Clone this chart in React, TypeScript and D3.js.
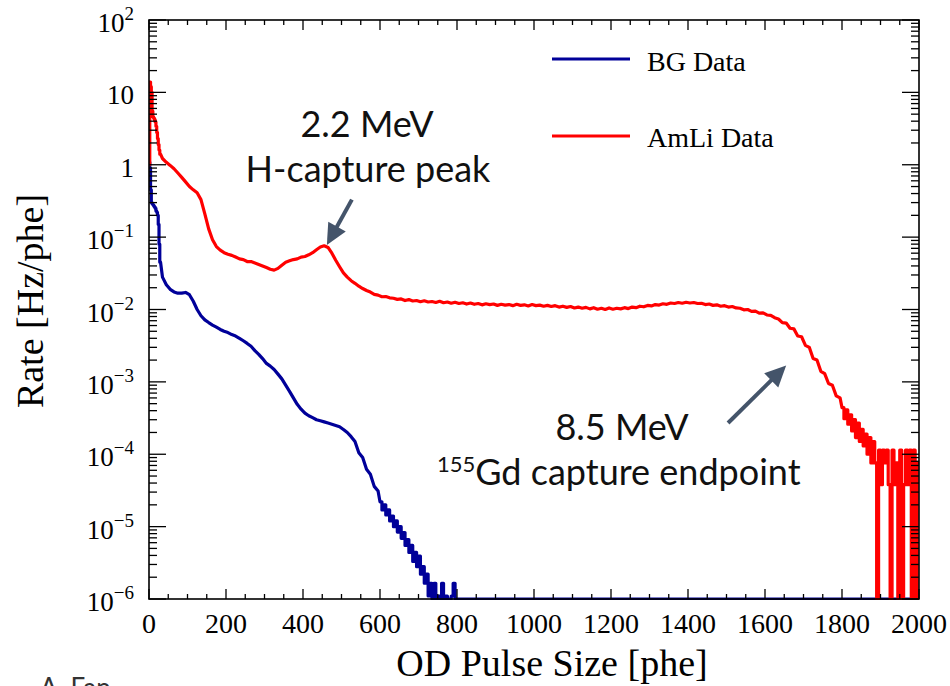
import React from 'react';
import * as d3 from 'd3';

// ---------- data ----------
const xTickValues = [0, 200, 400, 600, 800, 1000, 1200, 1400, 1600, 1800, 2000];
const yTickExponents = [-6, -5, -4, -3, -2, -1, 0, 1, 2];
const seriesNames = ['BG Data', 'AmLi Data'];

// AmLi (red) histogram
const redHeadStart = 0, redHeadWidth = 2;
const redHead = [1.0, 13.9, 12.0, 10.0, 5.5, 4.6, 4.4, 4.2, 3.9, 3.4, 2.8, 2.3, 1.9, 1.6, 1.4];
const redBodyStart = 30, redBodyWidth = 10;
const redBody = [
  1.22, 1.08, 0.98, 0.88, 0.77, 0.67, 0.58, 0.50, 0.45, 0.41,
  0.33, 0.21, 0.13, 0.092, 0.074, 0.066, 0.061, 0.058, 0.056, 0.053,
  0.050, 0.049, 0.046, 0.046, 0.044, 0.042, 0.040, 0.038, 0.036, 0.035,
  0.037, 0.041, 0.045, 0.047, 0.049, 0.050, 0.053, 0.054, 0.057, 0.061,
  0.067, 0.073, 0.076, 0.072, 0.060, 0.048, 0.039, 0.032, 0.028, 0.025,
  0.023, 0.021, 0.0195, 0.0183, 0.0174, 0.0162, 0.0158, 0.0150, 0.0151, 0.0145,
  0.0143, 0.0138, 0.0140, 0.0133, 0.0137, 0.0131, 0.0133, 0.0128, 0.0132, 0.0127,
  0.0129, 0.0125, 0.0130, 0.0124, 0.0127, 0.0122, 0.0126, 0.0121, 0.0124, 0.0119,
  0.0123, 0.0118, 0.0121, 0.0116, 0.0120, 0.0117, 0.0119, 0.0114, 0.0118, 0.0115,
  0.0117, 0.0113, 0.0118, 0.0114, 0.0116, 0.0112, 0.0117, 0.0113, 0.0115, 0.0111,
  0.0114, 0.0110, 0.0113, 0.0108, 0.0111, 0.0107, 0.0110, 0.0105, 0.0108, 0.0104,
  0.0107, 0.0102, 0.0106, 0.0101, 0.0104, 0.0100, 0.0105, 0.0101, 0.0104, 0.0102,
  0.0106, 0.0103, 0.0108, 0.0106, 0.0111, 0.0109, 0.0114, 0.0112, 0.0117, 0.0115,
  0.0120, 0.0118, 0.0123, 0.0121, 0.0125, 0.0122, 0.0126, 0.0123, 0.0125, 0.0121,
  0.0122, 0.0117, 0.0119, 0.0114, 0.0116, 0.0111, 0.0113, 0.0108, 0.0110, 0.0105,
  0.0104, 0.0099, 0.0100, 0.0094, 0.0095, 0.0089, 0.0090, 0.0084, 0.0083, 0.0077,
  0.0074, 0.0066, 0.0065, 0.0055, 0.0054, 0.0043, 0.0042, 0.0032, 0.0030, 0.0021,
  0.0020, 0.0014, 0.0013, 0.00095, 0.00090, 0.00064, 0.00060,
];
const redTailStart = 1800, redTailWidth = 5;
const redTail = [
  0.00044, 0.00031, 0.00041, 0.00026, 0.00035, 0.00021, 0.00030, 0.00017, 0.00027, 0.00015,
  0.00022, 0.00013, 0.00019, 0.00010, 0.00017, 0.000076, 0.00015, 0.000076, 0, 0.000114,
  0.000038, 0.000114, 0.000076, 0.000114, 0.000038, 0, 0.000114, 0.000038, 0.000076, 0,
  0.000114, 0, 0.000038, 0.000114, 0.000038, 0.000114, 0, 0.000114, 0, 0.000076,
];

// BG (blue) histogram
const blueHeadStart = 0, blueHeadWidth = 2;
const blueHead = [1.09, 0.9, 0.45, 0.30, 0.29, 0.28, 0.27, 0.26, 0.25, 0.23, 0.22, 0.20, 0.15, 0.08, 0.045];
const blueBodyStart = 30, blueBodyWidth = 10;
const blueBody = [
  0.028, 0.022, 0.019, 0.0175, 0.0168, 0.0168, 0.0172, 0.0160, 0.0130, 0.0100,
  0.0082, 0.0072, 0.0066, 0.0061, 0.0057, 0.0053, 0.0050, 0.0048, 0.0045, 0.0043,
  0.0040, 0.0037, 0.0034, 0.0031, 0.0027, 0.0024, 0.0021, 0.0018, 0.00165, 0.00148,
  0.00128, 0.00110, 0.00090, 0.00074, 0.00060, 0.00049, 0.00042, 0.00037, 0.00034, 0.00032,
  0.00030, 0.00029, 0.00028, 0.00027, 0.00026, 0.00025, 0.00024, 0.00022, 0.00020, 0.000175,
  0.000150, 0.000105, 0.000090, 0.000062, 0.000053, 0.000036, 0.000031,
];
const blueTailStart = 600, blueTailWidth = 5;
const blueTail = [
  2.2e-5, 1.7e-5, 2.0e-5, 1.45e-5, 1.7e-5, 1.2e-5, 1.4e-5, 1.0e-5, 1.2e-5, 8.4e-6,
  1.0e-5, 6.9e-6, 8.3e-6, 5.5e-6, 6.6e-6, 4.4e-6, 5.5e-6, 3.3e-6, 4.4e-6, 2.8e-6,
  3.9e-6, 2.2e-6, 2.8e-6, 1.65e-6, 2.2e-6, 1.1e-6, 1.65e-6, 5.5e-7, 1.65e-6, 5.5e-7,
  1.1e-6, 0, 1.65e-6, 5.5e-7, 1.1e-6, 0, 5.5e-7, 1.1e-6, 1.65e-6, 0,
];

// annotation anchors in data coordinates [phe, rate]
const arrowPeakFrom: [number, number] = [527, 0.33];
const arrowPeakTo: [number, number] = [462, 0.078];
const arrowEndFrom: [number, number] = [1504, 0.00027];
const arrowEndTo: [number, number] = [1655, 0.00168];

// ---------- layout ----------
const W = 950, H = 686;
const L = 149, R = 919, T = 20, B = 599;
const X_MAX = 2000;
const Y_MIN = 1e-6, Y_MAX = 1e2;

const x = d3.scaleLinear().domain([0, X_MAX]).range([L, R]);
const y = d3.scaleLog().domain([Y_MIN, Y_MAX]).range([B, T]);

type Seg = { start: number; width: number; values: number[]; step: boolean };

function histPoints(segs: Seg[], extendTo?: number): [number, number][] {
  const pts: [number, number][] = [];
  let last = 0;
  segs.forEach((s) => {
    s.values.forEach((v, i) => {
      const x0 = s.start + i * s.width;
      const x1 = x0 + s.width;
      if (s.step) pts.push([x0, v], [x1, v]);
      else pts.push([(x0 + x1) / 2, v]);
      last = x1;
    });
  });
  if (extendTo !== undefined && extendTo > last) {
    pts.push([last, 0], [extendTo, 0]);
  }
  return pts;
}

const line = d3
  .line<[number, number]>()
  .x((d) => x(d[0]))
  .y((d) => y(Math.max(d[1], Y_MIN)));

const redPts = histPoints([
  { start: redHeadStart, width: redHeadWidth, values: redHead, step: true },
  { start: redBodyStart, width: redBodyWidth, values: redBody, step: false },
  { start: redTailStart, width: redTailWidth, values: redTail, step: true },
]);
const bluePts = histPoints(
  [
    { start: blueHeadStart, width: blueHeadWidth, values: blueHead, step: true },
    { start: blueBodyStart, width: blueBodyWidth, values: blueBody, step: false },
    { start: blueTailStart, width: blueTailWidth, values: blueTail, step: true },
  ],
  X_MAX
);

const SERIF = "'Liberation Serif', 'Times New Roman', serif";
const SANS = "Lato, 'Open Sans', sans-serif";
const ARROW = '#44546A';

function Arrow({ from, to }: { from: [number, number]; to: [number, number] }) {
  const x1 = x(from[0]), y1 = y(from[1]);
  const x2 = x(to[0]), y2 = y(to[1]);
  const dx = x2 - x1, dy = y2 - y1;
  const len = Math.hypot(dx, dy);
  const ux = dx / len, uy = dy / len;
  const hl = 21, hw = 10;
  const bx = x2 - ux * hl, by = y2 - uy * hl;
  const px = -uy, py = ux;
  return (
    <g>
      <line x1={x1} y1={y1} x2={bx + ux * 2} y2={by + uy * 2} stroke={ARROW} strokeWidth={4} />
      <polygon
        points={`${x2},${y2} ${bx + px * hw},${by + py * hw} ${bx - px * hw},${by - py * hw}`}
        fill={ARROW}
      />
    </g>
  );
}

export default function App() {
  const xMinor = d3.range(0, X_MAX + 1, 50).filter((v) => v % 200 !== 0);
  const yMinor: number[] = [];
  for (let e = -6; e < 2; e++) for (let m = 2; m <= 9; m++) yMinor.push(m * Math.pow(10, e));

  const yLabel = (e: number) => {
    if (e === 0) return <tspan>1</tspan>;
    if (e === 1) return <tspan>10</tspan>;
    return (
      <>
        <tspan>10</tspan>
        <tspan dy={-12} fontSize={19}>{e < 0 ? '\u2212' + Math.abs(e) : String(e)}</tspan>
      </>
    );
  };

  return (
    <svg
      width={W}
      height={H}
      style={{ position: 'absolute', left: 0, top: 0, background: '#fff', display: 'block' }}
    >
      <defs>
        <clipPath id="plotClip">
          <rect x={L} y={T - 2} width={R - L} height={B - T + 3} />
        </clipPath>
      </defs>
      <rect x={0} y={0} width={W} height={H} fill="#fff" />

      {/* data */}
      <g clipPath="url(#plotClip)">
        <path d={line(bluePts) || ''} fill="none" stroke="#000099" strokeWidth={3.2} strokeLinejoin="round" />
        <path d={line(redPts) || ''} fill="none" stroke="#ff0000" strokeWidth={3.2} strokeLinejoin="round" />
      </g>

      {/* frame */}
      <rect x={L} y={T} width={R - L} height={B - T} fill="none" stroke="#000" strokeWidth={1.6} />

      {/* ticks */}
      <g stroke="#000" strokeWidth={1.3}>
        {xTickValues.map((v) => (
          <g key={'xt' + v}>
            <line x1={x(v)} x2={x(v)} y1={B} y2={B - 10} />
            <line x1={x(v)} x2={x(v)} y1={T} y2={T + 10} />
          </g>
        ))}
        {xMinor.map((v) => (
          <g key={'xm' + v}>
            <line x1={x(v)} x2={x(v)} y1={B} y2={B - 5} />
            <line x1={x(v)} x2={x(v)} y1={T} y2={T + 5} />
          </g>
        ))}
        {yTickExponents.map((e) => {
          const yy = y(Math.pow(10, e));
          return (
            <g key={'yt' + e}>
              <line x1={L} x2={L + 17} y1={yy} y2={yy} />
              <line x1={R} x2={R - 17} y1={yy} y2={yy} />
            </g>
          );
        })}
        {yMinor.map((v, i) => (
          <g key={'ym' + i}>
            <line x1={L} x2={L + 8} y1={y(v)} y2={y(v)} />
            <line x1={R} x2={R - 8} y1={y(v)} y2={y(v)} />
          </g>
        ))}
      </g>

      {/* tick labels */}
      <g fontFamily={SERIF} fontSize={28} fill="#000">
        {xTickValues.map((v) => (
          <text key={'xl' + v} x={x(v)} y={633} textAnchor="middle">
            {v}
          </text>
        ))}
      </g>
      <g fontFamily={SERIF} fontSize={27} fill="#000">
        {yTickExponents.map((e) => (
          <text key={'yl' + e} x={134} y={y(Math.pow(10, e)) + 12} textAnchor="end">
            {yLabel(e)}
          </text>
        ))}
      </g>

      {/* axis titles */}
      <text x={552} y={676} textAnchor="middle" fontFamily={SERIF} fontSize={38} fill="#000">
        OD Pulse Size [phe]
      </text>
      <text
        transform={`translate(43,301) rotate(-90)`}
        textAnchor="middle"
        fontFamily={SERIF}
        fontSize={38}
        fill="#000"
      >
        Rate [Hz/phe]
      </text>

      {/* legend */}
      <g fontFamily={SERIF} fontSize={28} fill="#000">
        <line x1={552} x2={630} y1={59} y2={59} stroke="#000099" strokeWidth={3} />
        <text x={647} y={71}>{seriesNames[0]}</text>
        <line x1={552} x2={630} y1={136} y2={136} stroke="#ff0000" strokeWidth={3} />
        <text x={647} y={147}>{seriesNames[1]}</text>
      </g>

      {/* annotations */}
      <g fontFamily={SANS} fill="#111" fontSize={36}>
        <text x={367} y={137} textAnchor="middle">2.2 MeV</text>
        <text x={368} y={182} textAnchor="middle">H-capture peak</text>
        <text x={622} y={440} textAnchor="middle">8.5 MeV</text>
        <text x={437} y={485}>
          <tspan fontSize={22} dy={-13}>155</tspan>
          <tspan dy={13}>Gd capture endpoint</tspan>
        </text>
      </g>
      <Arrow from={arrowPeakFrom} to={arrowPeakTo} />
      <Arrow from={arrowEndFrom} to={arrowEndTo} />

      <text x={40} y={697} fontFamily={SANS} fontSize={26} fill="#333">A. Fan</text>
    </svg>
  );
}
